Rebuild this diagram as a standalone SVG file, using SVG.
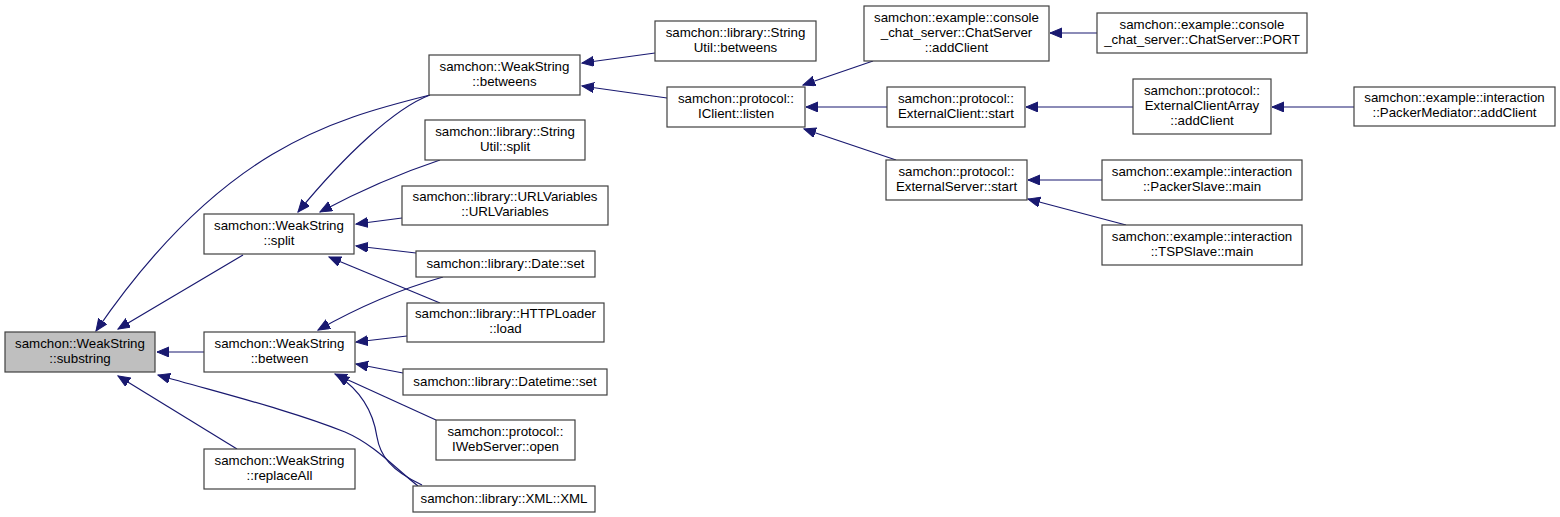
<svg xmlns="http://www.w3.org/2000/svg" width="1560" height="517" viewBox="0 0 1560 517">
<style>
.n rect{fill:#ffffff;stroke:#404040;stroke-width:1.2}
.n.hl rect{fill:#bfbfbf}
.n text{font-family:"Liberation Sans",Arial,sans-serif;font-size:13.3px;fill:#000;text-anchor:middle}
#edges path{fill:none;stroke:#191970;stroke-width:1.2;marker-end:url(#ah)}
</style>
<defs>
<marker id="ah" markerUnits="userSpaceOnUse" markerWidth="14" markerHeight="11" refX="12" refY="5" orient="auto">
<path d="M0,0 L12,5 L0,10 z" fill="#191970" stroke="#191970" stroke-width="1"/>
</marker>
</defs>
<rect width="1560" height="517" fill="#ffffff"/>
<g id="edges">
<path d="M204,352 L157,352"/>
<path d="M237,449 L118,376"/>
<path d="M418,486 C395,468 375,445 345,432 C290,410 220,393 158,375"/>
<path d="M243,255 L118,329"/>
<path d="M430,95 C330,120 220,150 96,331"/>
<path d="M430,95 C395,108 345,155 298,212"/>
<path d="M440,160 Q380,180 320,212"/>
<path d="M402,218 L356,224"/>
<path d="M416,253 L356,246"/>
<path d="M440,303 L329,257"/>
<path d="M443,277 Q380,295 318,330"/>
<path d="M407,336 L356,342"/>
<path d="M403,373 L356,364"/>
<path d="M436,420 L335,374"/>
<path d="M422,485 C390,470 380,455 377,437 C373,410 360,390 337,375"/>
<path d="M655,53 L582,63"/>
<path d="M667,98 L582,86"/>
<path d="M873,61 L803,85"/>
<path d="M887,107 L806,107"/>
<path d="M896,160 L804,129"/>
<path d="M1097,33 L1050,33"/>
<path d="M1133,107 L1026,107"/>
<path d="M1354,107 L1272,107"/>
<path d="M1102,180 L1028,180"/>
<path d="M1126,225 L1028,199"/>
</g>
<g id="substring" class="n hl"><rect x="5" y="332" width="150" height="40"/><text x="80" y="348">samchon::WeakString</text><text x="80" y="363">::substring</text></g>
<g id="between" class="n"><rect x="204" y="332" width="151" height="40"/><text x="279.5" y="348">samchon::WeakString</text><text x="279.5" y="363">::between</text></g>
<g id="replaceAll" class="n"><rect x="204" y="449" width="151" height="40"/><text x="279.5" y="465">samchon::WeakString</text><text x="279.5" y="480">::replaceAll</text></g>
<g id="split" class="n"><rect x="204" y="214" width="150" height="40"/><text x="279" y="230">samchon::WeakString</text><text x="279" y="245">::split</text></g>
<g id="betweens" class="n"><rect x="429" y="55" width="151" height="40"/><text x="504.5" y="71">samchon::WeakString</text><text x="504.5" y="86">::betweens</text></g>
<g id="su_split" class="n"><rect x="425" y="120" width="160" height="40"/><text x="505" y="136">samchon::library::String</text><text x="505" y="151">Util::split</text></g>
<g id="urlvars" class="n"><rect x="402" y="186" width="206" height="39"/><text x="505" y="201">samchon::library::URLVariables</text><text x="505" y="216">::URLVariables</text></g>
<g id="date_set" class="n"><rect x="416" y="251" width="179" height="26"/><text x="505.5" y="268">samchon::library::Date::set</text></g>
<g id="http_load" class="n"><rect x="407" y="303" width="197" height="39"/><text x="505.5" y="318">samchon::library::HTTPLoader</text><text x="505.5" y="333">::load</text></g>
<g id="datetime_set" class="n"><rect x="403" y="369" width="204" height="26"/><text x="505" y="386">samchon::library::Datetime::set</text></g>
<g id="iweb_open" class="n"><rect x="436" y="420" width="139" height="40"/><text x="505.5" y="436">samchon::protocol::</text><text x="505.5" y="451">IWebServer::open</text></g>
<g id="xml" class="n"><rect x="413" y="486" width="182" height="26"/><text x="504" y="503">samchon::library::XML::XML</text></g>
<g id="su_betweens" class="n"><rect x="655" y="21" width="161" height="40"/><text x="735.5" y="37">samchon::library::String</text><text x="735.5" y="52">Util::betweens</text></g>
<g id="iclient_listen" class="n"><rect x="667" y="87" width="138" height="40"/><text x="736" y="103">samchon::protocol::</text><text x="736" y="118">IClient::listen</text></g>
<g id="chat_addclient" class="n"><rect x="864" y="6" width="185" height="55"/><text x="956.5" y="22">samchon::example::console</text><text x="956.5" y="37">_chat_server::ChatServer</text><text x="956.5" y="52">::addClient</text></g>
<g id="extclient_start" class="n"><rect x="887" y="87" width="138" height="40"/><text x="956" y="103">samchon::protocol::</text><text x="956" y="118">ExternalClient::start</text></g>
<g id="extserver_start" class="n"><rect x="886" y="160" width="141" height="40"/><text x="956.5" y="176">samchon::protocol::</text><text x="956.5" y="191">ExternalServer::start</text></g>
<g id="chat_port" class="n"><rect x="1097" y="13" width="210" height="40"/><text x="1202" y="29">samchon::example::console</text><text x="1202" y="44">_chat_server::ChatServer::PORT</text></g>
<g id="eca_addclient" class="n"><rect x="1133" y="79" width="138" height="55"/><text x="1202" y="95">samchon::protocol::</text><text x="1202" y="110">ExternalClientArray</text><text x="1202" y="125">::addClient</text></g>
<g id="pm_addclient" class="n"><rect x="1354" y="87" width="201" height="39"/><text x="1454.5" y="102">samchon::example::interaction</text><text x="1454.5" y="117">::PackerMediator::addClient</text></g>
<g id="ps_main" class="n"><rect x="1102" y="160" width="200" height="40"/><text x="1202" y="176">samchon::example::interaction</text><text x="1202" y="191">::PackerSlave::main</text></g>
<g id="tsp_main" class="n"><rect x="1102" y="225" width="200" height="40"/><text x="1202" y="241">samchon::example::interaction</text><text x="1202" y="256">::TSPSlave::main</text></g>
</svg>
